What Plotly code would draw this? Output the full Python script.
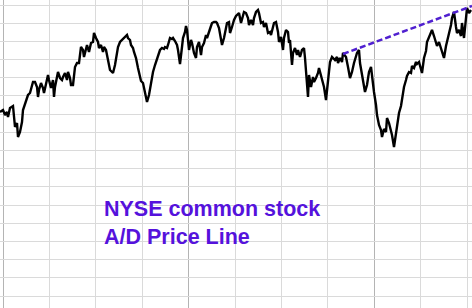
import plotly.graph_objects as go

# time position (weeks-like index) and A/D line level (arbitrary units)
t = [0, 3, 5, 7, 8, 10, 13, 14, 15, 17, 18, 20, 22, 23, 26, 28, 30, 32, 33, 35, 37, 38, 39, 41, 43, 44, 46, 48, 49, 51,
     53, 54, 55, 57, 58, 60, 62, 63, 65, 67, 68, 70, 71, 73, 74, 75, 77, 79, 81, 83, 84, 86, 87, 89, 91, 93, 94, 96, 98, 99,
     101, 103, 104, 106, 107, 109, 110, 112, 113, 115, 117, 118, 120, 122, 123, 125, 127, 128, 130, 131, 133, 134, 136, 138, 139, 141, 143, 144, 146, 147,
     149, 150, 152, 153, 155, 157, 158, 160, 162, 164, 165, 167, 168, 170, 172, 173, 175, 177, 178, 180, 182, 183, 185, 186, 187, 189, 191, 192, 194, 196,
     197, 199, 201, 202, 204, 206, 207, 209, 211, 212, 214, 216, 217, 219, 221, 222, 224, 226, 227, 229, 230, 232, 234, 236, 239, 241, 243, 244, 246, 248,
     249, 251, 253, 254, 256, 258, 259, 261, 263, 264, 266, 268, 270, 271, 273, 274, 276, 278, 279, 281, 283, 284, 286, 288, 289, 290, 292, 293, 295, 297,
     298, 300, 302, 304, 305, 306, 307, 308, 309, 311, 313, 314, 316, 318, 319, 321, 323, 324, 326, 327, 328, 330, 332, 333, 335, 337, 338, 340, 342, 343,
     346, 348, 350, 352, 354, 357, 359, 360, 362, 364, 365, 367, 369, 371, 372, 374, 376, 377, 379, 381, 382, 384, 386, 387, 389, 391, 392, 394, 396, 397,
     399, 401, 402, 404, 406, 407, 409, 411, 412, 414, 416, 417, 419, 421, 422, 424, 426, 427, 429, 431, 432, 434, 436, 437, 439, 441, 442, 444, 446, 447,
     449, 451, 452, 454, 456, 457, 459, 461, 462, 464, 466, 467, 469, 471]

ad_line = [88, 90, 85, 88, 83, 92, 94, 85, 73, 77, 63, 68, 78, 90, 100, 105, 107, 113, 118, 118, 113, 103, 110, 117, 112, 107, 115, 125, 120, 112,
           120, 103, 113, 122, 128, 122, 120, 123, 127, 120, 128, 122, 115, 115, 128, 133, 137, 137, 153, 150, 143, 150, 155, 148, 157, 158, 167, 162, 158, 152,
           155, 148, 153, 150, 145, 138, 130, 128, 127, 135, 145, 153, 158, 160, 162, 163, 165, 162, 160, 155, 152, 148, 142, 132, 128, 119, 117, 113, 105, 98,
           105, 112, 123, 128, 135, 142, 145, 150, 152, 151, 153, 152, 155, 162, 161, 162, 159, 155, 150, 136, 153, 162, 168, 174, 170, 150, 160, 157, 147, 142,
           153, 158, 145, 153, 157, 165, 162, 167, 174, 177, 178, 178, 177, 172, 160, 155, 162, 171, 177, 178, 167, 173, 180, 184, 187, 177, 185, 188, 187, 182,
           175, 180, 175, 182, 188, 190, 187, 177, 178, 173, 177, 167, 168, 165, 173, 177, 178, 168, 158, 163, 150, 162, 170, 168, 157, 160, 135, 147, 152, 145,
           150, 143, 150, 152, 142, 128, 113, 103, 125, 113, 123, 118, 122, 127, 132, 125, 117, 113, 100, 110, 125, 138, 143, 142, 140, 143, 137, 142, 138, 147,
           143, 133, 122, 128, 137, 147, 150, 137, 125, 110, 108, 115, 128, 133, 122, 108, 95, 85, 75, 70, 63, 71, 68, 82, 77, 70, 65, 53, 67, 78,
           87, 94, 102, 113, 120, 124, 128, 127, 134, 132, 138, 136, 138, 129, 127, 142, 149, 158, 163, 168, 170, 164, 158, 154, 158, 151, 148, 142, 154, 158,
           168, 175, 182, 188, 173, 167, 170, 164, 177, 162, 182, 192, 187, 190]

trend_t = [343, 472]
trend_v = [146, 194]

title_lines = ["NYSE common stock", "A/D Price Line"]

purple = "#5512DC"

fig = go.Figure()
fig.add_trace(go.Scatter(x=t, y=ad_line, mode="lines",
                         line=dict(color="black", width=2.4), hoverinfo="skip"))
fig.add_trace(go.Scatter(x=trend_t, y=trend_v, mode="lines",
                         line=dict(color="#5020D0", width=2.5, dash="6px,3px"), hoverinfo="skip"))

fig.add_annotation(x=102, y=5, xref="x", yref="y", xanchor="left", yanchor="top",
                   align="left", showarrow=False,
                   text="<b>" + "<br>".join(title_lines) + "</b>",
                   font=dict(family="Liberation Sans, Arial, sans-serif", size=21.5, color=purple))

fig.update_layout(
    width=472, height=308,
    margin=dict(l=0, r=0, t=0, b=0),
    paper_bgcolor="white", plot_bgcolor="white",
    showlegend=False,
    xaxis=dict(range=[0, 472], showticklabels=False, ticks="", zeroline=False,
               showgrid=True, tick0=3, dtick=185.6, gridcolor="#b4b4b4", gridwidth=1,
               minor=dict(tick0=3, dtick=46.4, showgrid=True, gridcolor="#dadada", gridwidth=1)),
    yaxis=dict(range=[-108, 200], showticklabels=False, ticks="", zeroline=False,
               showgrid=True, tick0=195, dtick=18.19, gridcolor="#dadada", gridwidth=1),
)

fig.write_html("out.html")
